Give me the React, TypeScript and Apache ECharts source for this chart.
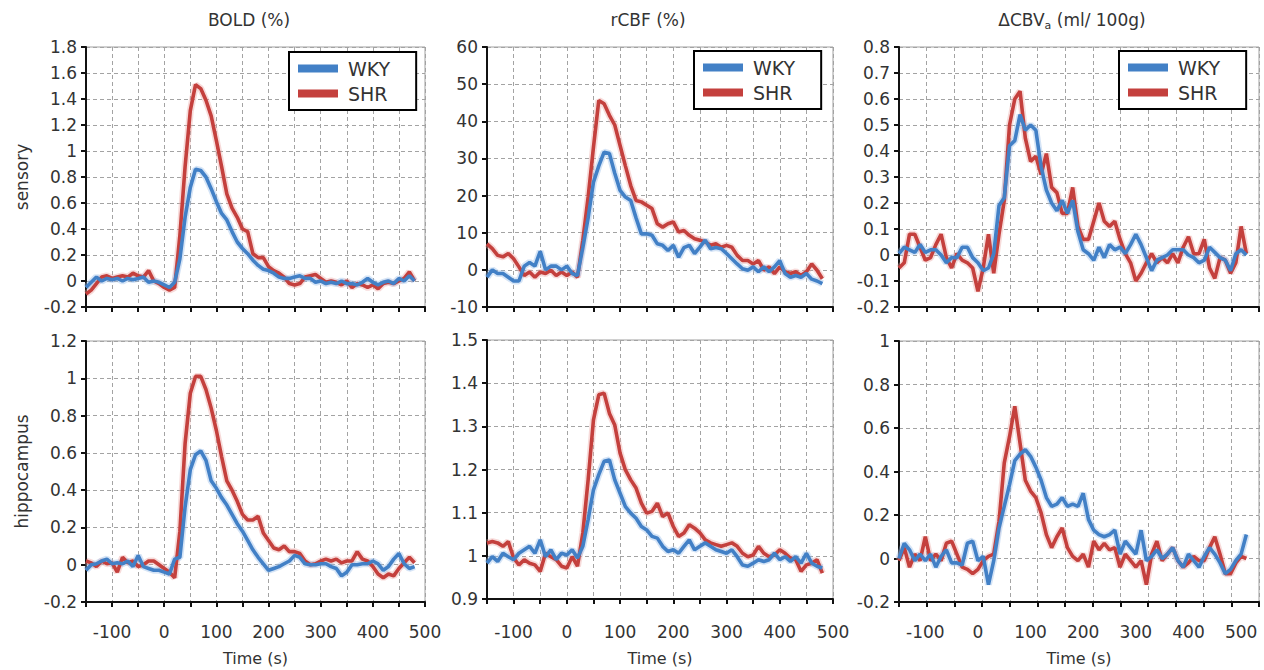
import React, { useEffect, useRef } from 'react';
import * as echarts from 'echarts';

// time points (s)
const timeMain = [-150, -140, -130, -120, -110, -100, -90, -80, -70, -60, -50, -40, -30, -20, -10, 0, 10, 20,
  30, 40, 50, 60, 70, 80, 90, 100, 110, 120, 130, 140, 150, 160, 170, 180, 190, 200, 210, 220,
  230, 240, 250, 260, 270, 280, 290, 300, 310, 320, 330, 340, 350, 360, 370, 380, 390, 400, 410, 420,
  430, 440, 450, 460, 470, 480];
const timeCbv = [-150, -140, -130, -120, -110, -100, -90, -80, -70, -60, -50, -40, -30, -20, -10, 0, 10, 20,
  30, 40, 50, 60, 70, 80, 90, 100, 110, 120, 130, 140, 150, 160, 170, 180, 190, 200, 210, 220,
  230, 240, 250, 260, 270, 280, 290, 300, 310, 320, 330, 340, 350, 360, 370, 380, 390, 400, 410, 420,
  430, 440, 450, 460, 470, 480, 490, 500, 510];

// sensory
const sensBoldWKY = [-0.05, -0.01, 0.03, 0.0, 0.02, 0.01, 0.02, 0.0, 0.02, 0.01, 0.02, 0.03, -0.01, 0.0, -0.01, -0.03, -0.05, -0.01,
  0.17, 0.49, 0.72, 0.86, 0.85, 0.80, 0.71, 0.61, 0.52, 0.47,
  0.38, 0.30, 0.25, 0.21, 0.16, 0.12, 0.09, 0.08, 0.06, 0.03,
  0.02, 0.02, 0.03, 0.04, 0.02, 0.02, -0.01, 0.0, -0.02, -0.01,
  -0.02, 0.0, -0.02, -0.02, -0.03, -0.01, 0.02, -0.01, -0.03, -0.01,
  0.0, -0.02, 0.02, 0.0, 0.04, 0.0];
const sensBoldSHR = [-0.10, -0.07, -0.02, 0.03, 0.04, 0.02, 0.03, 0.04, 0.03, 0.06, 0.04, 0.03, 0.08, 0.0, -0.02, -0.05, -0.07, -0.05,
  0.35, 0.88, 1.31, 1.51, 1.48, 1.39, 1.27, 1.08, 0.88, 0.67,
  0.56, 0.49, 0.40, 0.38, 0.21, 0.18, 0.18, 0.11, 0.08, 0.06,
  0.03, -0.02, -0.03, -0.02, 0.03, 0.04, 0.05, 0.02, -0.01, 0.0,
  -0.01, -0.03, 0.0, -0.05, -0.02, -0.03, -0.05, -0.03, -0.06, -0.02,
  -0.01, -0.02, 0.0, 0.02, 0.07, 0.0];
const sensCbfWKY = [-2, 0, -1, -1, -2, -3, -3, 1, 2, 1, 5, 0, 1, 1, 0, 1, -1, -1.5,
  6, 14, 23.6, 28, 31.7, 31.3, 26, 21.4, 19.6, 18.7,
  14, 9.7, 9.7, 9.3, 7, 6.6, 5.2, 6.6, 3.4, 6,
  6.6, 4.4, 6.1, 8, 5.7, 6, 5.7, 4.4, 3, 1.6,
  0.3, -0.1, 0.8, -0.5, 0.8, -0.5, 0.8, 2.5, -1, -2,
  -1.5, -2, -1, -2.5, -3, -3.7];
const sensCbfSHR = [7, 5.7, 3.9, 3.5, 4.4, 3, 0.8, -1.5, -0.6, -2, -0.6, -1, -0.1, -1.5, -0.6, -1.5, -0.6, -2,
  8, 19.6, 33, 45.6, 44.7, 41.6, 39, 33.5, 28, 22.7,
  18.7, 18.3, 17.4, 16.5, 12.4, 11.5, 12.4, 12.9, 10.2, 10.6,
  9.3, 8.4, 8, 7.5, 6.6, 7, 6.1, 6.6, 6.1, 3.9,
  2.5, 2.5, 1.6, 2.5, -0.1, 0.8, -1, 0.8, -0.5, -1,
  -0.5, -1.5, -0.5, 1.6, -0.1, -2.4];
const sensCbvWKY = [0.005, 0.03, 0.02, 0.01, 0.04, 0.01, 0.02, 0.02, 0.0, -0.03, -0.01, -0.01, 0.03, 0.03, -0.01, -0.03, -0.06, -0.05,
  0.005, 0.19, 0.22, 0.42, 0.44, 0.54, 0.48, 0.50, 0.48, 0.34,
  0.25, 0.20, 0.17, 0.21, 0.16, 0.21, 0.09, 0.02, 0.005, -0.02,
  0.03, -0.01, 0.04, 0.02, 0.03, 0.005, 0.04, 0.08, 0.04, -0.01,
  -0.06, -0.02, -0.01, 0.0, 0.02, 0.02, 0.02, 0.0, -0.01, -0.03,
  -0.02, 0.03, 0.01, -0.01, -0.02, -0.06, 0.005, 0.02, 0.0];
const sensCbvSHR = [-0.05, -0.03, 0.08, 0.08, 0.03, -0.02, -0.01, 0.04, 0.08, -0.01, -0.05, 0.005, -0.02, -0.03, -0.05, -0.14, -0.05, 0.08,
  -0.07, 0.08, 0.21, 0.50, 0.60, 0.63, 0.45, 0.36, 0.38, 0.31,
  0.39, 0.26, 0.24, 0.16, 0.16, 0.26, 0.11, 0.06, 0.06, 0.13,
  0.20, 0.13, 0.11, 0.13, 0.06, 0.005, -0.03, -0.10, -0.07, -0.03,
  0.005, -0.03, -0.01, -0.03, 0.005, -0.03, 0.03, 0.07, 0.005, 0.005,
  0.06, -0.05, -0.09, -0.01, -0.02, -0.07, -0.03, 0.11, 0.005];

// hippocampus
const hippBoldWKY = [-0.03, 0.0, 0.005, 0.02, 0.03, 0.005, 0.01, 0.005, 0.02, -0.01, 0.05, -0.01, -0.02, -0.03, -0.03, -0.04, -0.05, 0.03,
  0.04, 0.31, 0.51, 0.59, 0.61, 0.56, 0.45, 0.41, 0.36, 0.32,
  0.27, 0.22, 0.18, 0.13, 0.08, 0.04, 0.005, -0.03, -0.02, -0.01,
  0.005, 0.02, 0.05, 0.04, 0.005, 0.0, 0.0, 0.005, 0.005, -0.01,
  -0.02, -0.06, -0.04, 0.0, 0.0, 0.005, 0.005, 0.02, 0.005, -0.03,
  -0.01, 0.03, 0.06, 0.005, -0.02, -0.01];
const hippBoldSHR = [0.02, 0.01, -0.01, 0.02, 0.005, 0.01, -0.04, 0.04, 0.01, 0.02, -0.01, 0.0, 0.02, 0.02, 0.0, -0.02, -0.04, -0.07,
  0.18, 0.65, 0.92, 1.01, 1.01, 0.94, 0.84, 0.72, 0.58, 0.45,
  0.40, 0.34, 0.27, 0.24, 0.24, 0.26, 0.17, 0.13, 0.09, 0.08,
  0.10, 0.07, 0.07, 0.06, 0.02, 0.0, 0.005, 0.02, 0.03, 0.02,
  0.03, 0.01, 0.02, 0.02, 0.07, 0.03, 0.02, -0.01, -0.05, -0.07,
  -0.05, -0.06, -0.02, 0.01, 0.04, 0.01];
const hippCbfWKY = [0.983, 0.998, 0.987, 1.006, 0.998, 0.991, 1.006, 1.014, 1.022, 1.006, 1.037, 0.998, 1.014, 0.991, 1.006, 1.002, 1.014, 0.995,
  1.022, 1.084, 1.153, 1.188, 1.219, 1.222, 1.176, 1.145, 1.114, 1.099,
  1.087, 1.068, 1.060, 1.045, 1.041, 1.022, 1.010, 1.014, 1.006, 1.022,
  1.037, 1.014, 1.022, 1.030, 1.022, 1.014, 1.010, 1.006, 1.014, 0.998,
  0.979, 0.976, 0.983, 0.991, 0.987, 0.991, 1.006, 0.991, 0.998, 0.987,
  0.998, 0.983, 1.006, 0.983, 0.976, 0.972];
const hippCbfSHR = [1.030, 1.033, 1.030, 1.022, 1.033, 0.995, 0.979, 0.991, 0.983, 0.979, 0.964, 1.006, 0.998, 0.991, 0.976, 0.972, 0.998, 0.976,
  1.053, 1.176, 1.315, 1.373, 1.377, 1.330, 1.303, 1.238, 1.199, 1.176,
  1.157, 1.122, 1.099, 1.103, 1.122, 1.091, 1.099, 1.068, 1.045, 1.053,
  1.072, 1.064, 1.053, 1.037, 1.030, 1.026, 1.022, 1.026, 1.030, 1.022,
  1.006, 0.998, 1.002, 1.022, 1.006, 0.998, 1.002, 1.014, 1.006, 0.995,
  0.991, 0.964, 0.979, 0.983, 0.991, 0.960];
const hippCbvWKY = [0.0, 0.07, 0.04, -0.01, 0.02, -0.01, 0.02, -0.04, 0.01, 0.04, -0.02, -0.02, -0.03, 0.07, 0.08, -0.01, 0.01, -0.12,
  -0.01, 0.14, 0.24, 0.34, 0.45, 0.48, 0.50, 0.47, 0.42, 0.36,
  0.28, 0.24, 0.25, 0.28, 0.24, 0.25, 0.24, 0.30, 0.18, 0.13,
  0.11, 0.10, 0.11, 0.13, 0.02, 0.08, 0.05, 0.02, 0.13, -0.01,
  0.01, 0.04, 0.0, 0.02, 0.05, -0.01, -0.04, 0.02, -0.01, -0.04,
  0.01, 0.05, 0.02, -0.02, -0.07, -0.05, -0.01, 0.02, 0.11];
const hippCbvSHR = [-0.01, 0.05, -0.04, 0.02, -0.01, 0.10, -0.01, 0.02, -0.01, 0.07, 0.08, 0.02, -0.04, -0.05, -0.07, -0.05, -0.01, 0.01,
  0.02, 0.17, 0.44, 0.56, 0.70, 0.53, 0.36, 0.31, 0.28, 0.21,
  0.11, 0.05, 0.10, 0.14, 0.05, 0.01, -0.01, 0.02, -0.04, 0.08,
  0.04, 0.07, 0.04, 0.05, -0.04, 0.02, -0.01, -0.04, -0.01, -0.12,
  0.02, 0.08, -0.01, 0.02, 0.05, -0.01, -0.04, -0.02, 0.01, -0.01,
  -0.01, 0.05, 0.10, 0.02, -0.07, -0.07, -0.02, 0.01, 0.0];

const groupNames = ['WKY', 'SHR'];
const columnTitles = ['BOLD (%)', 'rCBF (%)', '{n|\u0394CBV}{sub|a}{n| (ml/ 100g)}'];
const rowNames = ['sensory', 'hippocampus'];
const xTickLabels = [-100, 0, 100, 200, 300, 400, 500];

const BLUE = '#4280c6';
const RED = '#c4403d';
const BLUE_BAND = 'rgba(150,188,232,0.4)';
const RED_BAND = 'rgba(236,165,162,0.4)';
const FONT = 'DejaVu Sans';
const TXT = '#333';

type Panel = {
  grid: { left: number; top: number; width: number; height: number };
  y: [number, number, number];
  time: number[];
  wky: number[];
  shr: number[];
  cbv: boolean;
  bottom: boolean;
  row?: string;
};

const panels: Panel[] = [
  { grid: { left: 86, top: 47, width: 339, height: 260 }, y: [-0.2, 1.8, 0.2], time: timeMain, wky: sensBoldWKY, shr: sensBoldSHR, cbv: false, bottom: false, row: rowNames[0] },
  { grid: { left: 487, top: 47, width: 346, height: 260 }, y: [-10, 60, 10], time: timeMain, wky: sensCbfWKY, shr: sensCbfSHR, cbv: false, bottom: false },
  { grid: { left: 899, top: 47, width: 360, height: 260 }, y: [-0.2, 0.8, 0.1], time: timeCbv, wky: sensCbvWKY, shr: sensCbvSHR, cbv: true, bottom: false },
  { grid: { left: 86, top: 341, width: 339, height: 261 }, y: [-0.2, 1.2, 0.2], time: timeMain, wky: hippBoldWKY, shr: hippBoldSHR, cbv: false, bottom: true, row: rowNames[1] },
  { grid: { left: 487, top: 340, width: 346, height: 259 }, y: [0.9, 1.5, 0.1], time: timeMain, wky: hippCbfWKY, shr: hippCbfSHR, cbv: false, bottom: true },
  { grid: { left: 899, top: 341, width: 360, height: 261 }, y: [-0.2, 1, 0.2], time: timeCbv, wky: hippCbvWKY, shr: hippCbvSHR, cbv: true, bottom: true },
];

function buildOption() {
  const grids: any[] = [];
  const xAxes: any[] = [];
  const yAxes: any[] = [];
  const series: any[] = [];
  const dash = { type: [4, 3], color: '#a3a3a3', width: 1 };
  const axisLine = { show: true, onZero: false, lineStyle: { color: '#111', width: 2 } };
  const axisTick = { show: true, length: 5, lineStyle: { color: '#111', width: 2 } };
  const labelFmt = (v: number) => (xTickLabels.indexOf(Math.round(v)) >= 0 && Math.abs(v - Math.round(v)) < 1e-6 ? String(Math.round(v)) : '');

  panels.forEach((p, i) => {
    const axisBottom = p.grid.top + p.grid.height;
    const xLabel = { show: p.bottom, color: TXT, fontSize: 17, fontFamily: FONT, margin: 623 - axisBottom, formatter: labelFmt, showMaxLabel: true, showMinLabel: true };
    const xName = p.bottom ? { name: 'Time (s)', nameLocation: 'middle', nameGap: 650 - axisBottom, nameTextStyle: { color: TXT, fontSize: 16, fontFamily: FONT } } : {};
    grids.push({ ...p.grid, show: true, borderColor: '#a0a0a0', borderWidth: 1, backgroundColor: 'transparent' });
    const dataAxis = xAxes.length;
    if (!p.cbv) {
      xAxes.push({
        type: 'value', gridIndex: i, min: -150, max: 500, interval: 50, position: 'bottom',
        axisLine, axisTick, splitLine: { show: true, lineStyle: dash },
        axisLabel: xLabel, ...xName,
      });
    } else {
      // label / data axis
      xAxes.push({
        type: 'value', gridIndex: i, min: -150, max: 534, interval: 50, position: 'bottom',
        axisLine: { show: false }, axisTick: { show: false }, splitLine: { show: false },
        axisLabel: xLabel, ...xName,
      });
      // tick / grid axis
      xAxes.push({
        type: 'value', gridIndex: i, min: 0, max: 13, interval: 1, position: 'bottom',
        axisLine, axisTick, splitLine: { show: true, lineStyle: dash },
        axisLabel: { show: false },
      });
    }
    yAxes.push({
      type: 'value', gridIndex: i, min: p.y[0], max: p.y[1], interval: p.y[2],
      axisLine, axisTick, splitLine: { show: true, lineStyle: dash },
      axisLabel: { color: TXT, fontSize: 17, fontFamily: FONT, margin: 9, showMinLabel: true, showMaxLabel: true },
      ...(p.row ? { name: p.row, nameLocation: 'middle', nameRotate: 90, nameGap: 56, nameTextStyle: { color: TXT, fontSize: 17, fontFamily: FONT } } : {}),
    });
    const groups = [
      { name: groupNames[1], vals: p.shr, color: RED, band: RED_BAND },
      { name: groupNames[0], vals: p.wky, color: BLUE, band: BLUE_BAND },
    ];
    groups.forEach((g) => {
      const data = p.time.map((t, j) => [t, g.vals[j]]);
      series.push({
        type: 'line', name: g.name + ' sem', xAxisIndex: dataAxis, yAxisIndex: i, data,
        showSymbol: false, symbol: 'none', silent: true, z: 2,
        lineStyle: { color: g.band, width: 7 }, itemStyle: { color: g.band },
      });
    });
    groups.forEach((g) => {
      const data = p.time.map((t, j) => [t, g.vals[j]]);
      series.push({
        type: 'line', name: g.name, xAxisIndex: dataAxis, yAxisIndex: i, data,
        showSymbol: false, symbol: 'none', silent: true, z: 3,
        lineStyle: { color: g.color, width: 3.6 }, itemStyle: { color: g.color }, color: g.color,
      });
    });
  });

  const legendBase = {
    data: groupNames, orient: 'vertical', icon: 'rect', itemWidth: 40, itemHeight: 8, itemGap: 6,
    padding: [7, 26, 7, 9], borderColor: '#000', borderWidth: 2, backgroundColor: '#fff',
    selectedMode: false, z: 10,
    textStyle: { color: TXT, fontSize: 19, fontFamily: FONT, padding: [0, 0, 0, 5] },
  };
  const legends = [
    { ...legendBase, left: 289, top: 52 },
    { ...legendBase, left: 694, top: 51 },
    { ...legendBase, left: 1119, top: 51 },
  ];

  const titleX = [249, 648, 1072];
  const graphic = titleX.map((x, k) => ({
    type: 'text', x, y: 20, z: 20,
    style: {
      text: columnTitles[k], align: 'center', verticalAlign: 'middle',
      fill: TXT, fontSize: 17, fontFamily: FONT,
      rich: { n: { fontSize: 17, fontFamily: FONT, fill: TXT, color: TXT }, sub: { fontSize: 11, fontFamily: FONT, color: TXT, fill: TXT, padding: [10, 0, 0, 0] } },
    },
  }));

  return {
    animation: false,
    backgroundColor: '#fff',
    grid: grids,
    xAxis: xAxes,
    yAxis: yAxes,
    legend: legends,
    series,
    graphic,
  };
}

export default function App() {
  const ref = useRef<HTMLDivElement>(null);
  useEffect(() => {
    const chart = echarts.init(ref.current!, undefined, { renderer: 'svg' });
    chart.setOption(buildOption() as any);
    return () => chart.dispose();
  }, []);
  return <div ref={ref} style={{ position: 'fixed', left: 0, top: 0, width: 1264, height: 670, background: '#fff' }} />;
}
